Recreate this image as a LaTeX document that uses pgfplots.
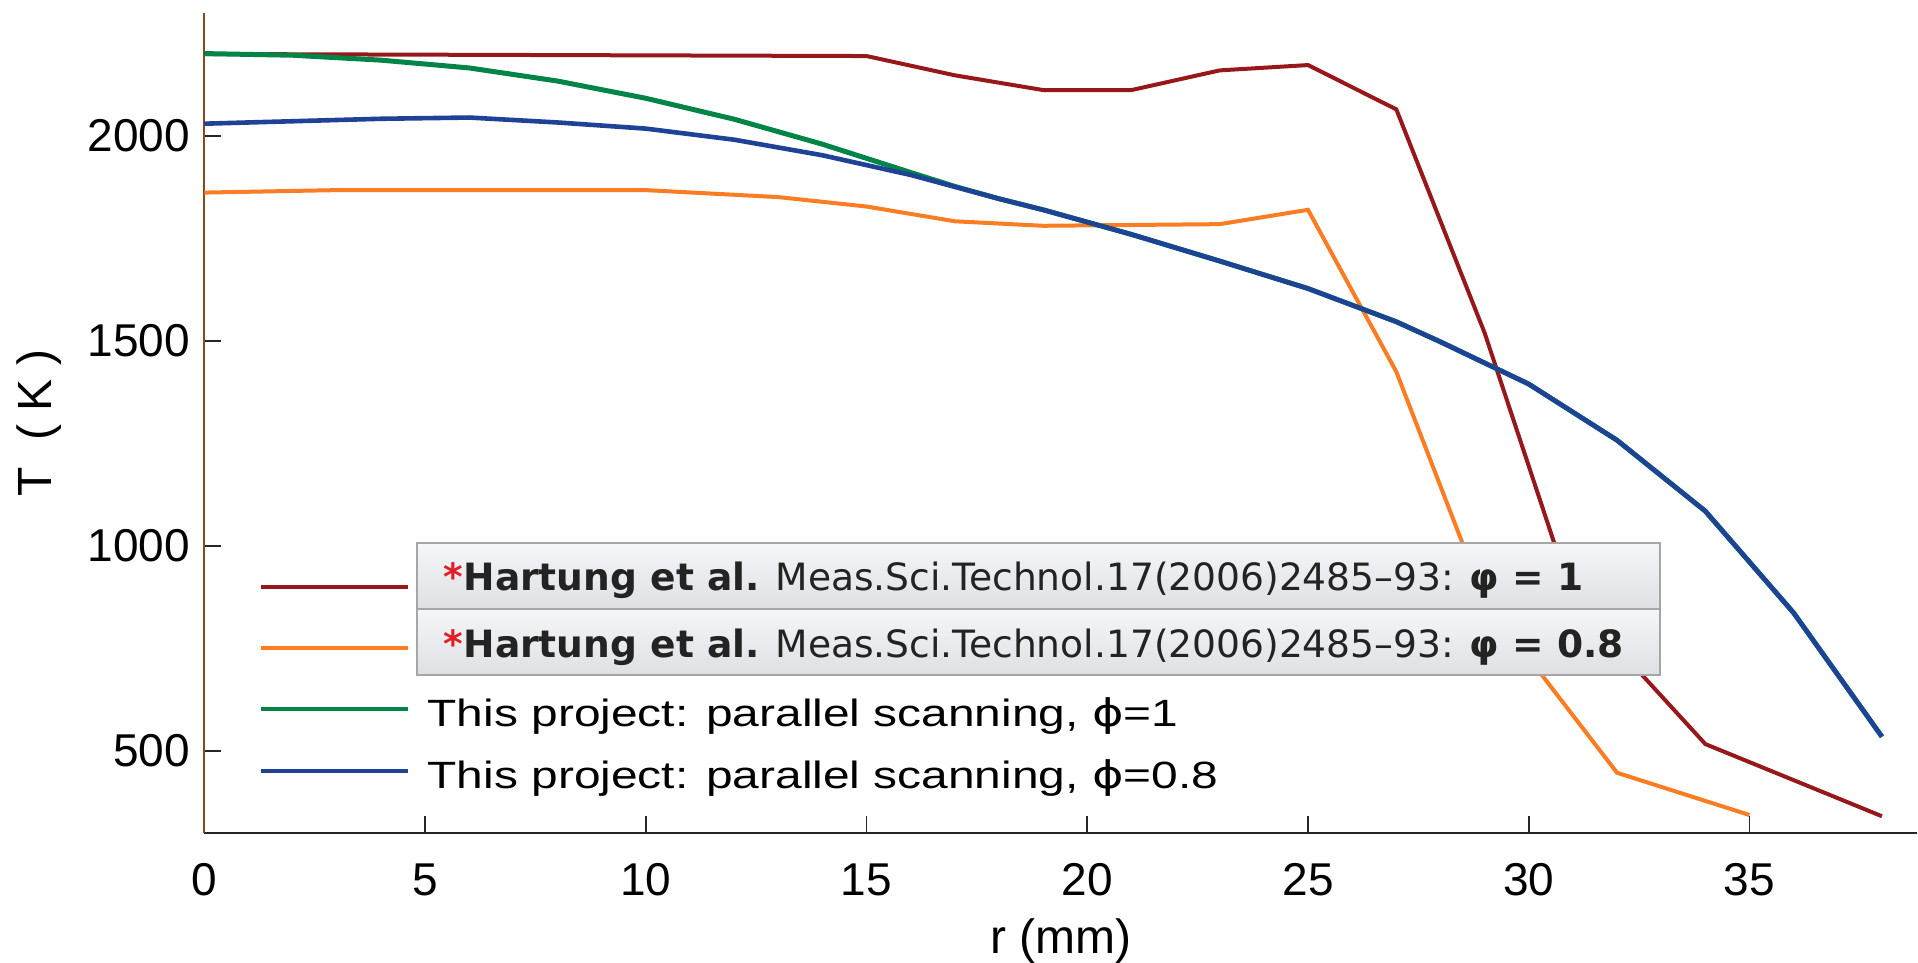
\documentclass[border=0pt]{standalone}
\usepackage{fontspec}
\setmainfont{Liberation Sans}
\newfontfamily\tipfont{DejaVu Sans}
\usepackage{pgfplots}
\usepackage{graphicx}
\pgfplotsset{compat=1.18}

\definecolor{hred}{RGB}{150,24,26}
\definecolor{horange}{RGB}{250,125,35}
\definecolor{pgreen}{RGB}{0,132,72}
\definecolor{pblue}{RGB}{30,66,150}
\definecolor{axbrown}{RGB}{140,70,30}
\definecolor{tipborder}{RGB}{165,166,168}
\definecolor{tiptop}{RGB}{245,246,248}
\definecolor{tipbot}{RGB}{223,224,227}
\definecolor{astred}{RGB}{225,30,40}
\definecolor{tiptext}{RGB}{35,35,35}

\newcommand\lstrut{\rule[-2.2pt]{0pt}{9.2pt}}
\newcommand\legtext[1]{\lstrut\scalebox{1.26}[1]{#1}}
\newcommand\uphi{{\tipfont ϕ}}

% Hartung et al., phi = 1
\pgfplotstableread{
r    T
0    2200
15   2195
17   2148
19   2112
21   2112
23   2160
25   2173
27   2065
29   1520
31   870
34   517
38   341
}\hartungA

% Hartung et al., phi = 0.8
\pgfplotstableread{
r    T
0    1862
3    1868
10   1868
13   1851
15   1828
17   1792
19   1781
21   1783
23   1785
25   1820
27   1425
29   867
32   447
35   344
}\hartungB

% parallel scanning, phi = 1
\pgfplotstableread{
r    T
0    2201
2    2197
4    2185
6    2166
8    2134
10   2092
12   2041
14   1980
16   1911
17   1877
18   1847
19   1820
21   1760
23   1695
25   1628
27   1547
28   1498
30   1395
32   1258
34   1085
36   837
38   535
}\scanA

% parallel scanning, phi = 0.8
\pgfplotstableread{
r    T
0    2030
2    2036
4    2042
6    2045
8    2033
10   2018
12   1991
14   1953
16   1905
17   1876
18   1847
19   1820
21   1760
23   1695
25   1628
27   1547
28   1498
30   1395
32   1258
34   1085
36   837
38   535
}\scanB

\begin{document}
\begin{tikzpicture}
\useasboundingbox (-51.075pt,-32.25pt) rectangle (428.4pt,208.25pt);
\begin{axis}[
  at={(0pt,0pt)}, anchor=south west,
  scale only axis,
  width=428.2pt, height=205pt,
  xmin=0, xmax=38.8, ymin=300, ymax=2300,
  axis x line*=bottom, axis y line*=left,
  axis line style={-},
  x axis line style={line width=0.7pt, black!85},
  y axis line style={line width=0.45pt, axbrown},
  xtick={0,5,...,35}, ytick={500,1000,1500,2000},
  tick align=inside, major tick length=4.2pt,
  tick style={black!85, line width=0.45pt},
  ticklabel style={font=\fontsize{11.5}{12}\selectfont},
  xticklabel style={anchor=base, yshift=-15.5pt},
  /pgf/number format/assume math mode=true,
  /pgf/number format/1000 sep={},
  xlabel={r (mm)},
  ylabel={T\ \ ( K )},
  label style={font=\fontsize{12}{13}\selectfont},
  xlabel style={at={(axis description cs:0.5,0)}, anchor=base, yshift=-30pt},
  ylabel style={at={(axis description cs:-0.0962,0.5)}, anchor=center},
  legend style={draw=none, fill=none, inner sep=0pt, outer sep=0pt,
    at={(axis description cs:0,0)}, anchor=south west,
    xshift=13.55pt, yshift=9.65pt,
    row sep=4.05pt, column sep=4.5pt,
    font=\fontsize{9.5}{10}\selectfont,
    nodes={inner sep=0pt}},
  legend cell align=left,
  legend image code/.code={
    \path[draw=none, fill=none] (0pt,-2.2pt) rectangle (36.8pt,7pt);
    \draw[#1, line width=1pt] (0pt,1.5pt) -- (36.8pt,1.5pt);},
]
\addplot[hred, line width=1pt] table[x=r, y=T] {\hartungA};
\addlegendentry{\lstrut}
\addplot[horange, line width=1pt] table[x=r, y=T] {\hartungB};
\addlegendentry{\lstrut}
\addplot[pgreen, line width=1.25pt] table[x=r, y=T] {\scanA};
\addlegendentry{\legtext{This project: parallel scanning, \uphi=1}}
\addplot[pblue, line width=1.15pt] table[x=r, y=T] {\scanB};
\addlegendentry{\legtext{This project: parallel scanning, \uphi=0.8}}
\end{axis}

% reference labels for the two Hartung et al. curves
\shadedraw[top color=tiptop, bottom color=tipbot, draw=tipborder, line width=0.5pt]
  (53.2pt,56pt) rectangle (363.9pt,72.5pt);
\shadedraw[top color=tiptop, bottom color=tipbot, draw=tipborder, line width=0.5pt]
  (53.2pt,39.5pt) rectangle (363.9pt,56pt);
\node[anchor=base west, inner sep=0pt, text=tiptext] at (59.7pt,60.75pt)
  {\tipfont\fontsize{9.4}{10}\selectfont{\color{astred}\bfseries *}{\bfseries Hartung et al.} Meas.Sci.Technol.17(2006)2485–93: {\bfseries φ = 1}};
\node[anchor=base west, inner sep=0pt, text=tiptext] at (59.7pt,44pt)
  {\tipfont\fontsize{9.4}{10}\selectfont{\color{astred}\bfseries *}{\bfseries Hartung et al.} Meas.Sci.Technol.17(2006)2485–93: {\bfseries φ = 0.8}};
\end{tikzpicture}
\end{document}
